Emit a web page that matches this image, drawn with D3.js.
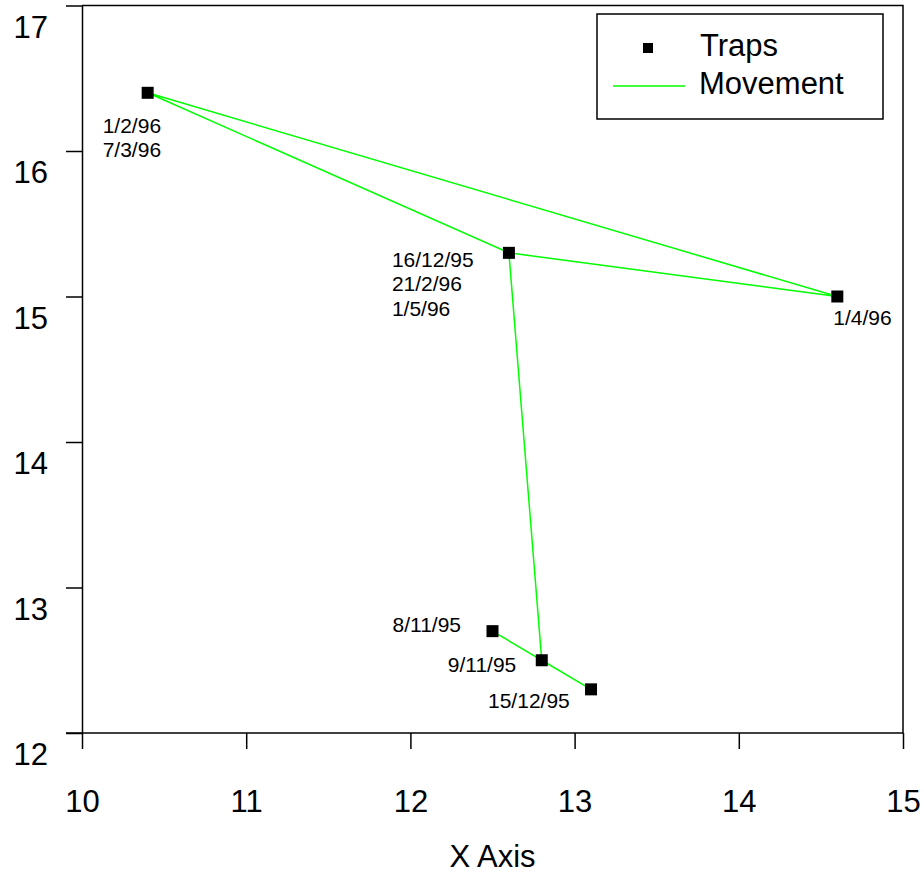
<html>
<head>
<script src="https://d3js.org/d3.v7.min.js"></script>
<style>
  body { margin: 0; background: #fff; }
  text { font-family: "Liberation Sans", Arial, sans-serif; fill: #000; }
</style>
</head>
<body>
<div id="chart"></div>
<script>
// trap locations
var trapX = [10.4, 12.6, 14.6, 12.5, 12.8, 13.1];
var trapY = [16.4, 15.3, 15.0, 12.7, 12.5, 12.3];
var trapLabels = [
  ["1/2/96", "7/3/96"],
  ["16/12/95", "21/2/96", "1/5/96"],
  ["1/4/96"],
  ["8/11/95"],
  ["9/11/95"],
  ["15/12/95"]
];
// movement path, in visit order
var moveX = [12.5, 13.1, 12.8, 12.6, 10.4, 12.6, 10.4, 14.6, 12.6];
var moveY = [12.7, 12.3, 12.5, 15.3, 16.4, 15.3, 16.4, 15.0, 15.3];

var xTicks = [10, 11, 12, 13, 14, 15];
var yTicks = [12, 13, 14, 15, 16, 17];

// label placement (pixels from the trap)
var labelOffsets = [[-45, 40], [-117, 14], [-4, 28], [-100, 1], [-94, 12], [-103, 19]];

var W = 924, H = 873;
var plotL = 82, plotR = 903, plotT = 5.5, plotB = 733;

var svg = d3.select("#chart").append("svg")
  .attr("width", W)
  .attr("height", H);

var x = d3.scaleLinear().domain([10, 15]).range([plotL, plotR]);
var y = d3.scaleLinear().domain([12, 17]).range([plotB, plotT]);

// frame top + right
svg.append("path")
  .attr("d", "M" + plotL + "," + plotT + "H" + plotR + "V" + plotB)
  .attr("fill", "none")
  .attr("stroke", "#000")
  .attr("stroke-width", 1.5);

// X axis
var xAxis = svg.append("g")
  .attr("transform", "translate(0," + plotB + ")")
  .call(d3.axisBottom(x).tickValues(xTicks).tickFormat(d3.format("d"))
    .tickSize(16).tickSizeOuter(0).tickPadding(41));
// Y axis
var yAxis = svg.append("g")
  .attr("transform", "translate(" + plotL + ",0)")
  .call(d3.axisLeft(y).tickValues(yTicks).tickFormat(d3.format("d"))
    .tickSize(16).tickSizeOuter(0).tickPadding(18));

[xAxis, yAxis].forEach(function(a) {
  a.attr("font-size", null).attr("font-family", null);
  a.selectAll("path, line").attr("stroke", "#000").attr("stroke-width", 1.5);
  a.selectAll("text")
    .style("font-size", "31px")
    .attr("fill", "#000");
});
xAxis.select(".domain").attr("d", "M" + (plotL - 16) + ",0H" + plotR);
yAxis.selectAll("text").attr("dy", "1.02em");
xAxis.selectAll("text").attr("dy", "0.71em");

svg.append("text")
  .attr("x", (plotL + plotR) / 2)
  .attr("y", 867)
  .attr("text-anchor", "middle")
  .style("font-size", "31px")
  .text("X Axis");

// movement line
var line = d3.line()
  .x(function(d) { return x(d[0]); })
  .y(function(d) { return y(d[1]); });
var movePts = moveX.map(function(v, i) { return [v, moveY[i]]; });
svg.append("path")
  .datum(movePts)
  .attr("d", line)
  .attr("fill", "none")
  .attr("stroke", "#00ff00")
  .attr("stroke-width", 1.5);

// traps
var traps = trapX.map(function(v, i) { return { x: v, y: trapY[i], labels: trapLabels[i], off: labelOffsets[i] }; });
svg.selectAll("rect.trap")
  .data(traps)
  .enter().append("rect")
  .attr("class", "trap")
  .attr("x", function(d) { return x(d.x) - 6; })
  .attr("y", function(d) { return y(d.y) - 6; })
  .attr("width", 12)
  .attr("height", 12)
  .attr("fill", "#000");

traps.forEach(function(d) {
  d.labels.forEach(function(t, j) {
    svg.append("text")
      .attr("x", x(d.x) + d.off[0])
      .attr("y", y(d.y) + d.off[1] + j * 24.5)
      .style("font-size", "21px")
      .text(t);
  });
});

// legend
var lg = svg.append("g");
lg.append("rect")
  .attr("x", 597).attr("y", 14)
  .attr("width", 286).attr("height", 105)
  .attr("fill", "#fff")
  .attr("stroke", "#000")
  .attr("stroke-width", 1.5);
lg.append("rect")
  .attr("x", 643).attr("y", 43)
  .attr("width", 10).attr("height", 10)
  .attr("fill", "#000");
lg.append("text")
  .attr("x", 700).attr("y", 56)
  .style("font-size", "31px")
  .text("Traps");
lg.append("line")
  .attr("x1", 613).attr("x2", 685)
  .attr("y1", 86).attr("y2", 86)
  .attr("stroke", "#00ff00")
  .attr("stroke-width", 1.5);
lg.append("text")
  .attr("x", 699).attr("y", 94)
  .style("font-size", "31px")
  .text("Movement");
</script>
</body>
</html>
